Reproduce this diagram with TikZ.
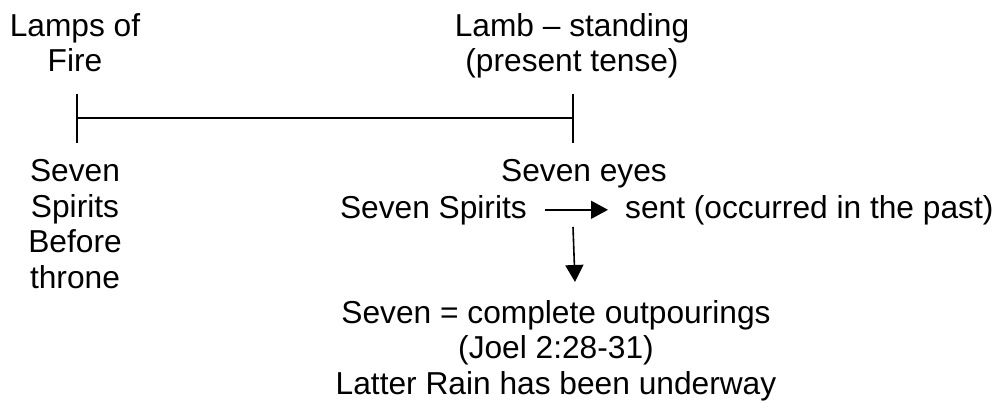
\documentclass[tikz,border=0pt]{standalone}
\usepackage{fontspec}
\setmainfont{Liberation Sans}
\usetikzlibrary{arrows.meta}
\begin{document}
\begin{tikzpicture}[x=1pt,y=-1pt,
  lbl/.style={inner sep=0pt, align=center, font=\fontsize{31.7}{35.5}\selectfont, anchor=base},
  bar/.style={line width=1.6pt},
  arr/.style={line width=1.6pt, -{Triangle[length=17pt,width=18pt]}}]
\useasboundingbox[fill=white] (0,0) rectangle (999,404);
% top labels (base anchor = last line)
\node[lbl] (lamps) at (75,71.5) {Lamps of\\Fire};
\node[lbl] (lamb) at (572,71.5) {Lamb – standing\\(present tense)};
% timeline
\coordinate (lt) at (77,94);
\coordinate (lb) at (77,143);
\coordinate (lm) at (77,118);
\coordinate (rt) at (573,94);
\coordinate (rb) at (573,143);
\coordinate (rm) at (573,118);
\draw[bar] (lt) -- (lb);
\draw[bar] (rt) -- (rb);
\draw[bar] (lm) -- (rm);
% lower labels
\node[lbl] (before) at (75,288) {Seven\\Spirits\\Before\\throne};
\node[lbl] (eyes) at (584,181) {Seven eyes};
\node[lbl, anchor=base east] (spirits) at (527,218) {Seven Spirits};
\node[lbl, anchor=base west] (sent) at (625,218) {sent (occurred in the past)};
\draw[arr, shorten <=18pt, shorten >=17pt] (spirits.east) -- (spirits.east -| sent.west);
\node[lbl] (seven) at (556,394) {Seven = complete outpourings\\(Joel 2:28-31)\\Latter Rain has been underway};
\coordinate (d1) at (573,227);
\coordinate (d2) at (575,282);
\draw[arr] (d1) -- (d2);
\end{tikzpicture}
\end{document}
